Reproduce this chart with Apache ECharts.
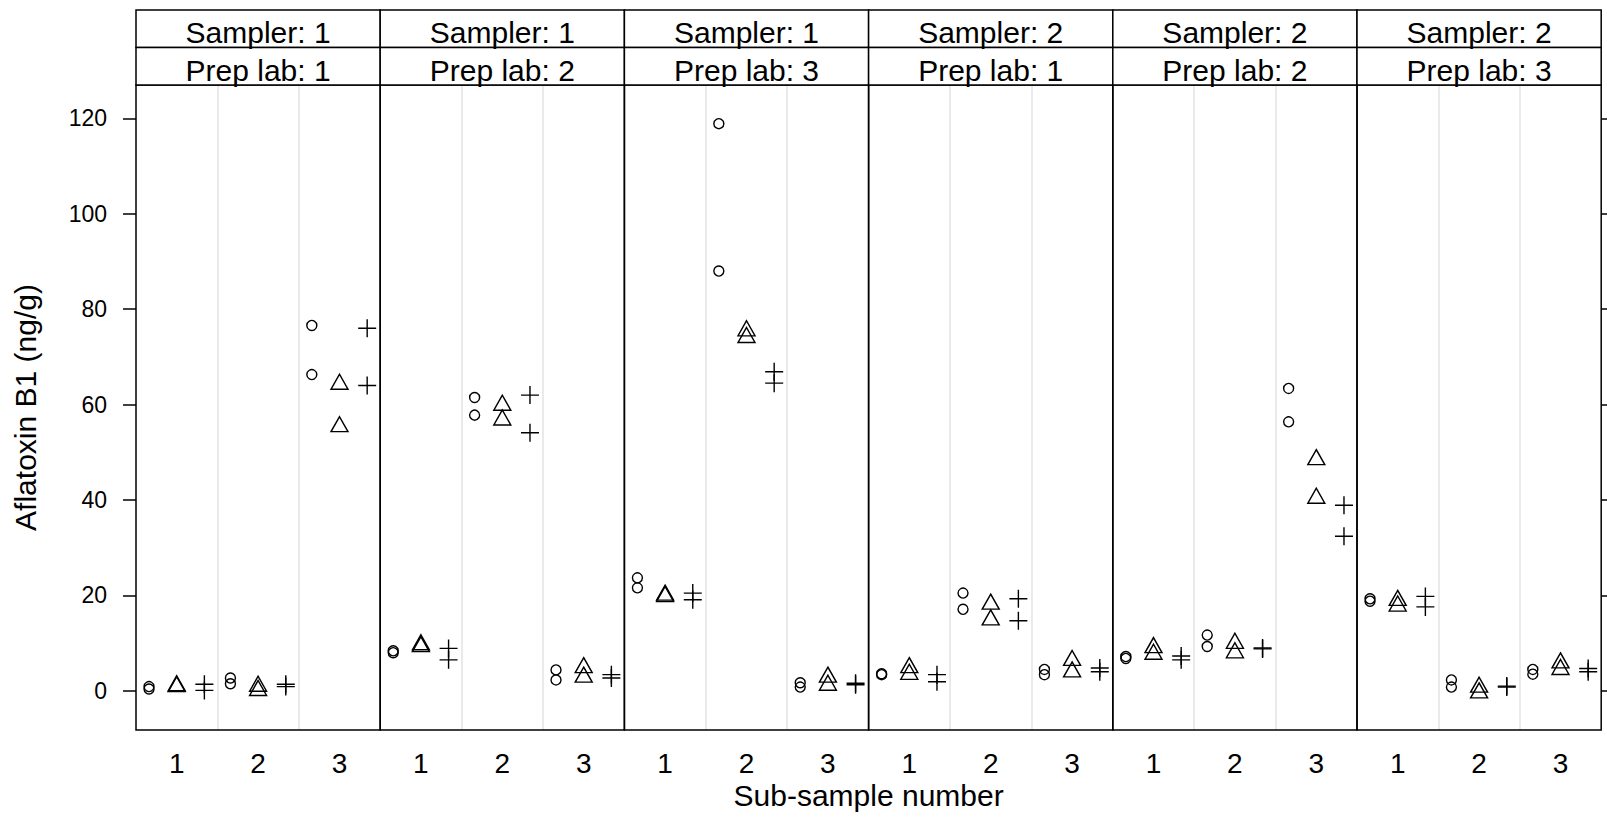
<!DOCTYPE html>
<html><head><meta charset="utf-8">
<script src="https://cdn.jsdelivr.net/npm/echarts@6/dist/echarts.min.js"></script>
<style>html,body{margin:0;padding:0;background:#fff}#chart{width:1607px;height:835px}</style>
</head><body><div id="chart"></div>
<script>
// ---- data ----
const subSamples = ['1', '2', '3'];
const samplers = [1, 1, 1, 2, 2, 2];
const prepLabs = [1, 2, 3, 1, 2, 3];
const yTicks = [0, 20, 40, 60, 80, 100, 120];
// values[panel][subSample] = [replicate a, replicate b]
const circleValues = [
  [[0.9, 0.4], [2.7, 1.5], [76.6, 66.3]],
  [[8.4, 8.0], [61.5, 57.8], [4.4, 2.3]],
  [[23.7, 21.6], [118.9, 88.0], [1.7, 0.8]],
  [[3.6, 3.4], [20.5, 17.1], [4.5, 3.4]],
  [[7.2, 6.8], [11.7, 9.3], [63.4, 56.4]],
  [[19.3, 18.8], [2.3, 0.8], [4.5, 3.5]]
];
const triangleValues = [
  [[1.6, 1.4], [1.5, 0.6], [64.8, 55.9]],
  [[10.2, 9.8], [60.4, 57.3], [5.4, 3.4]],
  [[20.6, 20.3], [76.0, 74.6], [3.4, 1.7]],
  [[5.4, 4.0], [18.7, 15.4], [6.9, 4.5]],
  [[9.6, 8.2], [10.5, 8.5], [49.0, 40.9]],
  [[19.5, 18.3], [1.3, 0.1], [6.4, 5.0]]
];
const plusValues = [
  [[1.4, 0.1], [1.4, 0.9], [76.0, 64.0]],
  [[8.9, 6.5], [62.0, 54.1], [3.4, 2.7]],
  [[20.5, 19.1], [66.9, 64.5], [1.6, 1.3]],
  [[3.4, 1.9], [19.3, 14.7], [4.8, 4.0]],
  [[7.3, 6.5], [9.0, 8.8], [38.9, 32.4]],
  [[19.8, 17.6], [1.0, 0.8], [4.7, 4.0]]
];

// ---- layout ----
const FONT = '"Liberation Sans", Arial, Helvetica, sans-serif';
const plotLeft = 136, plotTop = 85, plotBottom = 730;
const panelW = 244.2, plotH = plotBottom - plotTop;
const stripTop = 10, stripH = 37.5;
const yMin = -8.2, yMax = 127;

const grids = [], xAxes = [], yAxes = [], series = [], graphics = [];
const symbolDefs = [
  { vals: circleValues, offset: -0.34, symbol: 'circle', size: 10 },
  { vals: triangleValues, offset: 0, symbol: 'triangle', size: [17, 15] },
  { vals: plusValues, offset: 0.34, symbol: 'path://M9,0L9,18M0,9L18,9', size: 18 }
];

for (let i = 0; i < samplers.length; i++) {
  const left = plotLeft + i * panelW;
  grids.push({ left: left, top: plotTop, width: panelW, height: plotH, show: true,
    borderColor: '#000', borderWidth: 1.5, backgroundColor: 'transparent', z: 5 });
  // hidden numeric axis for positions + grey separators
  xAxes.push({ type: 'value', gridIndex: i, min: 0.5, max: 3.5, interval: 1,
    axisLine: { show: false }, axisTick: { show: false }, axisLabel: { show: false },
    splitLine: { show: true, showMinLine: false, showMaxLine: false,
      lineStyle: { color: '#e3e3e3', width: 1.5 } } });
  // category axis for labels
  xAxes.push({ type: 'category', gridIndex: i, data: subSamples, position: 'bottom',
    axisLine: { show: false }, axisTick: { show: false }, splitLine: { show: false },
    axisLabel: { show: true, color: '#000', fontSize: 28, lineHeight: 28, fontFamily: FONT, margin: 19 } });
  const isFirst = i === 0, isLast = i === samplers.length - 1;
  yAxes.push({ type: 'value', gridIndex: i, min: yMin, max: yMax,
    position: isLast ? 'right' : 'left',
    axisLine: { show: false }, splitLine: { show: false },
    axisTick: { show: isFirst || isLast, inside: false, length: 13, customValues: yTicks,
      lineStyle: { color: '#000', width: 1.5 } },
    axisLabel: { show: isFirst, customValues: yTicks, color: '#000', fontSize: 23,
      fontFamily: FONT, margin: 29 } });

  symbolDefs.forEach(function (d) {
    const data = [];
    d.vals[i].forEach(function (pair, s) {
      pair.forEach(function (v) { data.push([s + 1 + d.offset, v]); });
    });
    series.push({ type: 'scatter', xAxisIndex: 2 * i, yAxisIndex: i, data: data,
      symbol: d.symbol, symbolSize: d.size, silent: true,
      itemStyle: { color: 'transparent', borderColor: '#000', borderWidth: 1.4, opacity: 1 },
      emphasis: { disabled: true } });
  });

  // strips
  const labels = ['Sampler: ' + samplers[i], 'Prep lab: ' + prepLabs[i]];
  labels.forEach(function (t, k) {
    const y0 = stripTop + k * stripH;
    graphics.push({ type: 'rect', shape: { x: left, y: y0, width: panelW, height: stripH },
      style: { fill: '#fff', stroke: '#000', lineWidth: 1.5 }, z: 10 });
    graphics.push({ type: 'text', x: left + panelW / 2, y: y0 + 22.5, z: 11,
      style: { text: t, font: '30px ' + FONT, fill: '#000',
        textAlign: 'center', textVerticalAlign: 'middle', align: 'center', verticalAlign: 'middle' } });
  });
}

graphics.push({ type: 'text', x: plotLeft + 3 * panelW, y: 795, z: 11,
  style: { text: 'Sub-sample number', font: '30px ' + FONT, fill: '#000', lineHeight: 30,
    textAlign: 'center', textVerticalAlign: 'middle', align: 'center', verticalAlign: 'middle' } });
graphics.push({ type: 'text', x: 25, y: (plotTop + plotBottom) / 2, rotation: Math.PI / 2, z: 11,
  style: { text: 'Aflatoxin B1 (ng/g)', font: '30px ' + FONT, fill: '#000',
    textAlign: 'center', textVerticalAlign: 'middle', align: 'center', verticalAlign: 'middle' } });

const chart = echarts.init(document.getElementById('chart'), null, { renderer: 'svg' });
chart.setOption({
  animation: false,
  backgroundColor: '#fff',
  grid: grids,
  xAxis: xAxes,
  yAxis: yAxes,
  series: series,
  graphic: { elements: graphics }
});
</script>
</body></html>
